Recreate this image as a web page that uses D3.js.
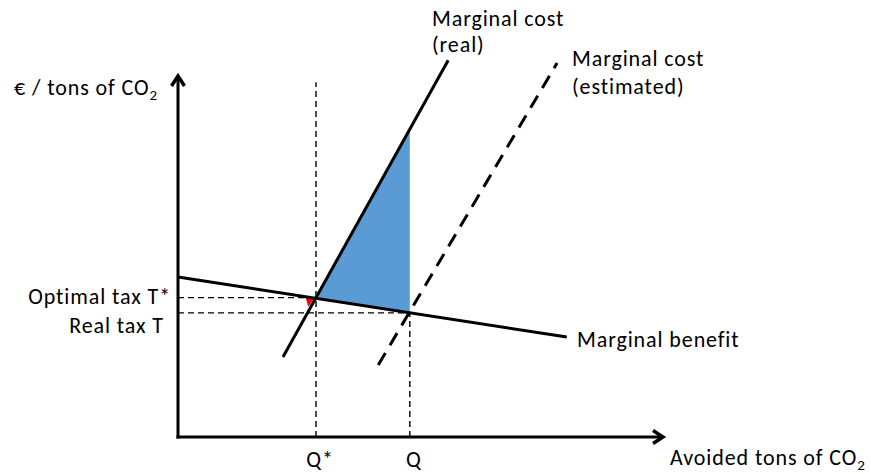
<!DOCTYPE html>
<html><head><meta charset="utf-8">
<script src="https://cdn.jsdelivr.net/npm/d3@7"></script>
<style>body{margin:0;background:#fff}svg{display:block}text{font-family:Carlito,Lato,"Open Sans",sans-serif;font-size:22px;letter-spacing:0.9px;fill:#000}</style>
</head><body><svg id="c" width="871" height="474"></svg>
<script>
// Data (abstract units)
const marginalBenefit = [[0, 4.42], [8.0, 2.76]];
const marginalCostReal = [[2.16, 2.21], [5.56, 10.41]];
const marginalCostEst = [[4.12, 1.99], [7.80, 10.33]];
const qStar = 2.84, qReal = 4.77;
const tStar = 3.85, tReal = 3.43;
const mcRealAtQ = 8.52;
const deadweight = [[qStar, tStar], [qReal, mcRealAtQ], [qReal, tReal]];
const redTriangle = [[2.63, 3.84], [2.82, 3.86], [2.68, 3.60]];
const qStarTop = 9.8;
const xTickLabels = ["Q*", "Q"];
const yTickLabels = ["Optimal tax T*", "Real tax T"];

const svg = d3.select("#c");
const x = d3.scaleLinear().domain([0, 10]).range([178, 664]);
const y = d3.scaleLinear().domain([0, 10]).range([437, 75]);
const line = d3.line().x(d => x(d[0])).y(d => y(d[1]));

// blue area
svg.append("path").attr("d", line(deadweight) + "Z").attr("fill", "#5b9bd5");
svg.append("path").attr("d", line(redTriangle) + "Z").attr("fill", "#ff0000");

// dashed guides
const g = svg.append("g").attr("stroke", "#000").attr("stroke-width", 1.4).attr("stroke-dasharray", "6,4").attr("fill", "none");
g.append("path").attr("d", line([[qStar, 0], [qStar, qStarTop]]));
g.append("path").attr("d", line([[qReal, 0], [qReal, tReal]]));
g.append("path").attr("d", line([[0, tStar], [qStar, tStar]]));
g.append("path").attr("d", line([[0, tReal], [qReal, tReal]]));

// curves
svg.append("path").attr("d", line(marginalBenefit)).attr("stroke", "#000").attr("stroke-width", 3).attr("fill", "none");
svg.append("path").attr("d", line(marginalCostReal)).attr("stroke", "#000").attr("stroke-width", 3).attr("fill", "none");
svg.append("path").attr("d", line(marginalCostEst)).attr("stroke", "#000").attr("stroke-width", 3).attr("stroke-dasharray", "14,9").attr("fill", "none");

// axes
svg.append("path").attr("d", `M${x(0)},${y(0) + 1.5}V${y(10) + 2}`).attr("stroke", "#000").attr("stroke-width", 3).attr("fill", "none");
svg.append("path").attr("d", `M${x(0) - 1.5},${y(0)}H${x(10) - 2}`).attr("stroke", "#000").attr("stroke-width", 3).attr("fill", "none");
svg.append("path").attr("d", `M${x(0) - 6.5},${y(10) + 11}L${x(0)},${y(10) + 1}L${x(0) + 6.5},${y(10) + 11}`).attr("stroke", "#000").attr("stroke-width", 3.5).attr("fill", "none");
svg.append("path").attr("d", `M${x(10) - 11},${y(0) - 6.5}L${x(10) - 1},${y(0)}L${x(10) - 11},${y(0) + 6.5}`).attr("stroke", "#000").attr("stroke-width", 3.5).attr("fill", "none");

// tick labels
svg.append("text").attr("x", x(qStar) + 4).attr("y", 467).attr("text-anchor", "middle").text(xTickLabels[0]);
svg.append("text").attr("x", x(qReal) + 4).attr("y", 467).attr("text-anchor", "middle").text(xTickLabels[1]);
svg.append("text").attr("x", 171).attr("y", y(tStar) + 6).attr("text-anchor", "end").text(yTickLabels[0]);
svg.append("text").attr("x", 164).attr("y", y(tReal) + 20).attr("text-anchor", "end").text(yTickLabels[1]);

// labels
const t1 = svg.append("text").attr("x", 14).attr("y", 95);
t1.append("tspan").text("€ / tons of CO");
t1.append("tspan").attr("dy", 5).attr("font-size", 15).text("2");
const t2 = svg.append("text").attr("x", 670).attr("y", 465);
t2.append("tspan").text("Avoided tons of CO");
t2.append("tspan").attr("dy", 5).attr("font-size", 15).text("2");
svg.append("text").attr("x", 432).attr("y", 26).text("Marginal cost");
svg.append("text").attr("x", 432).attr("y", 52).text("(real)");
svg.append("text").attr("x", 572).attr("y", 66).text("Marginal cost");
svg.append("text").attr("x", 572).attr("y", 94).text("(estimated)");
svg.append("text").attr("x", 577).attr("y", 347).text("Marginal benefit");
</script></body></html>
